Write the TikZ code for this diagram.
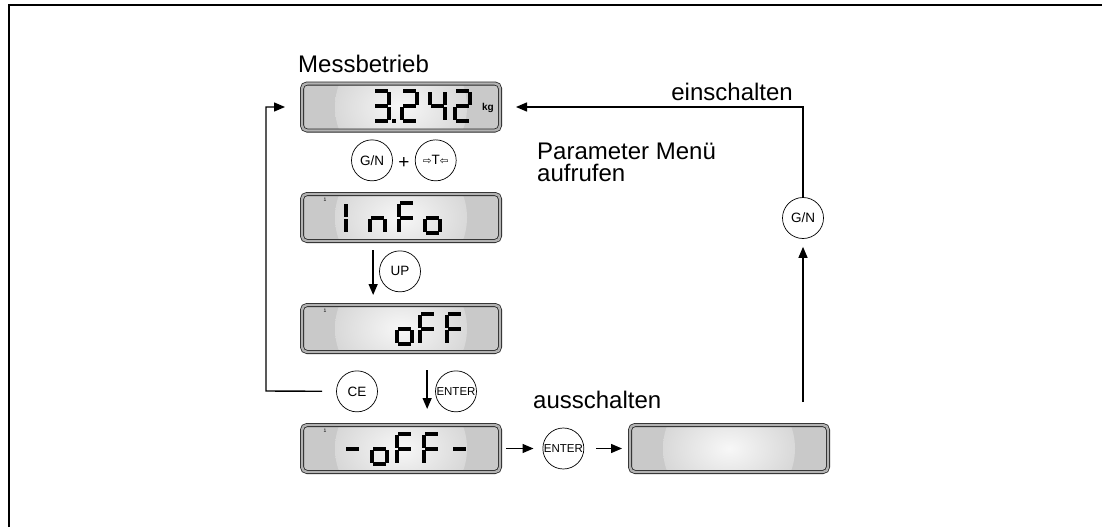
\documentclass[tikz,border=0pt]{standalone}
\usepackage{fontspec}
\setmainfont{Liberation Sans}
\newfontfamily\arrowfont{DejaVu Sans}
\usetikzlibrary{arrows.meta}
\usetikzlibrary{positioning}
\usetikzlibrary{calc}

% one seven-segment character, top left corner at (#1,#2)
\newcommand{\lcdglyph}[3]{%
  \begin{scope}[shift={(#1,#2)}]
    \foreach \s in {#3}{%
      \if a\s \draw[lcdseg] (1.2,0) -- (13.8,0); \fi
      \if b\s \draw[lcdseg] (15,1.2) -- (15,13.8); \fi
      \if c\s \draw[lcdseg] (15,16.2) -- (15,28.8); \fi
      \if d\s \draw[lcdseg] (1.2,30) -- (13.8,30); \fi
      \if e\s \draw[lcdseg] (0,16.2) -- (0,28.8); \fi
      \if f\s \draw[lcdseg] (0,1.2) -- (0,13.8); \fi
      \if g\s \draw[lcdseg] (1.2,15) -- (13.8,15); \fi
    }
  \end{scope}}

\begin{document}
\begin{tikzpicture}[
    x=1pt, y=-1pt,
    >=Stealth,
    lcd/.style={rectangle, rounded corners=5pt, draw=black!85, line width=0.8pt,
      double=gray!60, double distance=2.4pt, fill=gray!42,
      minimum width=198pt, minimum height=47pt, inner sep=0pt, outer sep=0pt,
      path picture={\shade[inner color=white!97!black, outer color=gray!42]
        (path picture bounding box.center) circle (66pt);}},
    lcdseg/.style={line width=4pt, line cap=butt},
    key/.style={circle, draw, line width=0.7pt, minimum size=41pt, inner sep=0pt,
      font=\fontsize{13.5}{13.5}\selectfont},
    lbl/.style={font=\fontsize{24}{22}\selectfont, inner sep=0pt},
    tiny/.style={font=\fontsize{5}{5}\selectfont, inner sep=0pt},
    arr/.style={-{Triangle[length=11pt,width=9pt]}, line width=1.4pt}
]
\useasboundingbox (0,0) rectangle (1102,527);
\draw[line width=2pt] (9,527) -- (9,5) -- (1102,5);

% Displays
\node[lcd] (weigh) at (401,107) {};
\node[lcd, below=63.5pt of weigh] (info) {};
\node[lcd, below=64pt of info] (off) {};
\node[lcd, below=73pt of off] (offset) {};
\node[lcd, right=130pt of offset] (blank) {};

% Display contents
\lcdglyph{374}{91}{a,b,c,d,g}
\fill (391.5,119) rectangle (395.5,123);
\lcdglyph{402}{91}{a,b,g,e,d}
\lcdglyph{430}{91}{f,g,b,c}
\lcdglyph{455}{91}{a,b,g,e,d}
\node[font=\bfseries\fontsize{10}{10}\selectfont, inner sep=0pt] (kg) at (488,108) {kg};

\lcdglyph{346}{203}{f,e}
\lcdglyph{370}{203}{g,c,e}
\lcdglyph{399}{203}{a,f,g,e}
\lcdglyph{425}{203}{g,c,d,e}

\lcdglyph{397}{314}{g,c,d,e}
\lcdglyph{420}{314}{a,f,g,e}
\lcdglyph{447}{314}{a,f,g,e}

\lcdglyph{345}{434}{g}
\lcdglyph{372}{434}{g,c,d,e}
\lcdglyph{397}{434}{a,f,g,e}
\lcdglyph{424}{434}{a,f,g,e}
\lcdglyph{452}{434}{g}

\node[tiny] at ([shift={(23,6)}]info.north west) {1};
\node[tiny] at ([shift={(23,6)}]off.north west) {1};
\node[tiny] at ([shift={(23,6)}]offset.north west) {1};

% Keys
\node[key, below=9pt of weigh, xshift=-29pt] (gn) {G/N};
\node[key, right=22pt of gn] (tare) {{\arrowfont\fontsize{10.5}{10.5}\selectfont ⇨}T{\arrowfont\fontsize{10.5}{10.5}\selectfont ⇦}};
\path (gn) -- node[font=\fontsize{19}{19}\selectfont, yshift=-3pt] (plus) {+} (tare);
\node[key, below=9.5pt of info, xshift=-1pt] (up) {UP};
\node[key, below=18.5pt of off, xshift=-44pt] (ce) {CE};
\node[key, below=18.5pt of off, xshift=55pt, font=\fontsize{11.5}{11.5}\selectfont] (enter) {ENTER};
\node[key, right=42.5pt of offset, font=\fontsize{11.5}{11.5}\selectfont] (enterOff) {ENTER};
\node[key] (gnOn) at (803,218) {G/N};

% Labels
\node[lbl, anchor=base west] (lblMess) at (298,72) {Messbetrieb};
\node[lbl, anchor=base east] (lblOn) at (793,100) {einschalten};
\node[lbl, anchor=north west, align=left] (lblMenu) at (537,143) {Parameter Menü\\aufrufen};
\node[lbl, anchor=base west] (lblOff) at (533,408) {ausschalten};

% Edges
\coordinate (loopL) at (266,391);
\draw[arr, shorten <=14pt, shorten >=17pt] (ce.west) -- (loopL) |- (weigh.west);
\draw[arr, shorten <=9pt, shorten >=10pt] ($(up.west |- info.south)+(-6,0)$) -- ($(up.west |- off.north)+(-6,0)$);
\draw[arr, shorten <=18pt, shorten >=16pt] ($(enter.west |- off.south)+(-8,0)$) -- ($(enter.west |- offset.north)+(-8,0)$);
\draw[arr, shorten <=6pt, shorten >=9pt] (offset) -- (enterOff);
\draw[arr, shorten <=12pt, shorten >=8pt] (enterOff) -- (blank);
\draw[arr, shorten <=23pt, shorten >=8pt] (blank.north -| gnOn) -- (gnOn.south);
\draw[arr, shorten >=16pt] (gnOn.north) |- (weigh.east);

\end{tikzpicture}
\end{document}
